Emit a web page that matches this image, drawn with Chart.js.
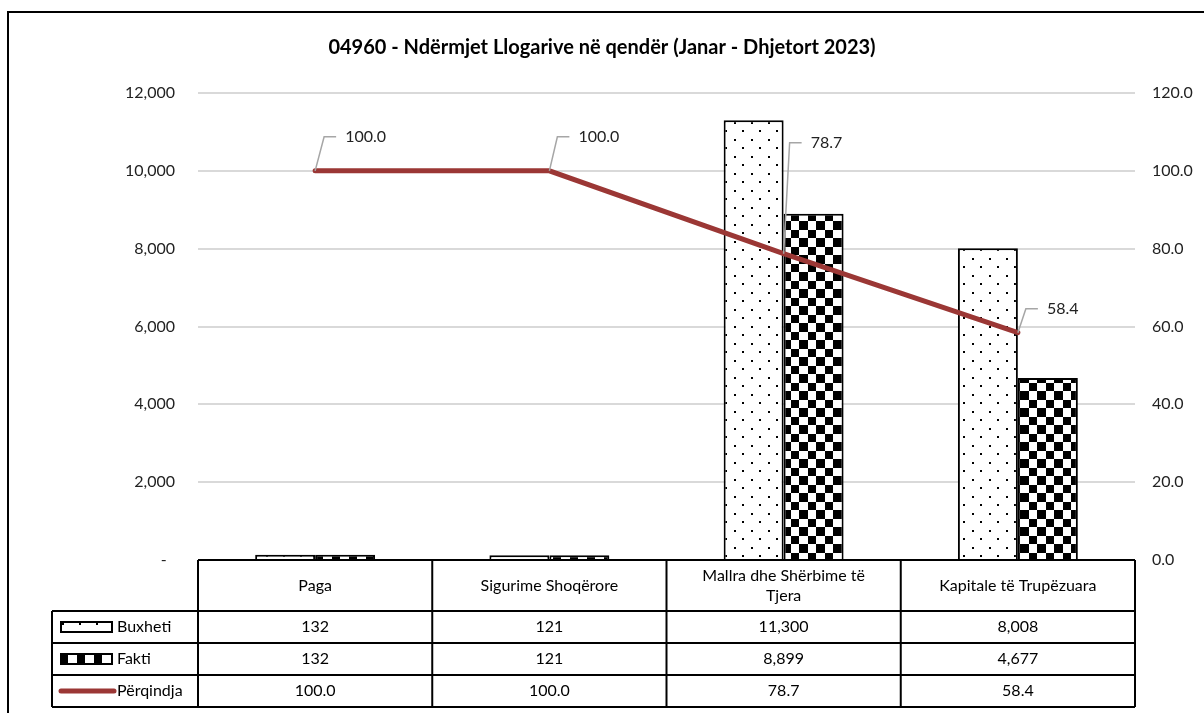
<!DOCTYPE html>
<html>
<head>
<meta charset="utf-8">
<script src="https://cdn.jsdelivr.net/npm/chart.js@4.4.1/dist/chart.umd.min.js"></script>
<style>
  html, body { margin: 0; padding: 0; background: #fff; }
  canvas { display: block; }
</style>
</head>
<body>
<canvas id="chart" width="1204" height="713"></canvas>
<script>
// te dhenat e grafikut
const categories = ["Paga", "Sigurime Shoqërore", ["Mallra dhe Shërbime të", "Tjera"], "Kapitale të Trupëzuara"];
const buxheti = [132, 121, 11300, 8008];
const fakti = [132, 121, 8899, 4677];
const perqindja = [100.0, 100.0, 78.7, 58.4];
const seriesNames = ["Buxheti", "Fakti", "Përqindja"];
const titleText = "04960 - Ndërmjet Llogarive në qendër (Janar - Dhjetort 2023)";

const lineColor = "#9b3735";
Chart.defaults.font.family = "Lato";

// mostrat e shtyllave
function makeDots() {
    const c = document.createElement("canvas");
    c.width = 17; c.height = 17;
    const g = c.getContext("2d");
    g.fillStyle = "#fff";
    g.fillRect(0, 0, 17, 17);
    g.fillStyle = "#000";
    g.fillRect(3, 3, 2, 2);
    g.fillRect(11, 11, 2, 2);
    return g.createPattern(c, "repeat");
}

function makeChecker() {
    const c = document.createElement("canvas");
    c.width = 17; c.height = 17;
    const g = c.getContext("2d");
    g.fillStyle = "#fff";
    g.fillRect(0, 0, 17, 17);
    g.fillStyle = "#000";
    g.fillRect(0, 0, 9, 9);
    g.fillRect(9, 9, 8, 8);
    return g.createPattern(c, "repeat");
}

const ctx = document.getElementById("chart").getContext("2d");
const dotPattern = makeDots();
const checkPattern = makeChecker();

function fmt(v) {
    return v.toLocaleString("en-US");
}

// sfondi dhe korniza
const frame = {
    id: "frame",
    beforeDraw(chart) {
        const c = chart.ctx;
        c.save();
        c.fillStyle = "#fff";
        c.fillRect(0, 0, chart.width, chart.height);
        c.strokeStyle = "#000";
        c.lineWidth = 2;
        c.strokeRect(8, 12, chart.width + 50, chart.height + 50);
        c.restore();
    }
};

// etiketat me vija udhezuese
const labelOffsets = [[30, -34], [29, -34], [27, -111], [29, -24]];
const lineLabels = {
    id: "lineLabels",
    afterDatasetsDraw(chart) {
        const meta = chart.getDatasetMeta(2);
        const c = chart.ctx;
        c.save();
        c.font = "16px Lato";
        c.textBaseline = "middle";
        c.textAlign = "left";
        meta.data.forEach((pt, i) => {
            const tx = pt.x + labelOffsets[i][0];
            const ty = pt.y + labelOffsets[i][1];
            c.strokeStyle = "#a6a6a6";
            c.lineWidth = 1.5;
            c.beginPath();
            c.moveTo(pt.x, pt.y);
            c.lineTo(tx - 21, ty);
            c.lineTo(tx - 9, ty);
            c.stroke();
            c.fillStyle = "#222";
            c.fillText(perqindja[i].toFixed(1), tx, ty);
        });
        c.restore();
    }
};

// tabela e te dhenave poshte grafikut
const dataTable = {
    id: "dataTable",
    afterDraw(chart) {
        const c = chart.ctx;
        const area = chart.chartArea;
        const xs = chart.scales.x;
        const half = (xs.getPixelForValue(1) - xs.getPixelForValue(0)) / 2;
        const top = area.bottom;
        const rowsTop = top + 51;
        const rowH = 32;
        const legendLeft = 52;
        const bottom = rowsTop + rowH * 3;

        c.save();
        c.strokeStyle = "#000";
        c.lineWidth = 2;
        c.beginPath();
        c.moveTo(area.left, top); c.lineTo(area.right, top);
        for (let r = 0; r <= 3; r++) {
            c.moveTo(legendLeft, rowsTop + r * rowH);
            c.lineTo(area.right, rowsTop + r * rowH);
        }
        c.moveTo(legendLeft, rowsTop); c.lineTo(legendLeft, bottom);
        c.moveTo(area.left, top); c.lineTo(area.left, bottom);
        for (let i = 0; i < categories.length; i++) {
            const xr = xs.getPixelForValue(i) + half;
            c.moveTo(xr, top); c.lineTo(xr, bottom);
        }
        c.stroke();

        c.fillStyle = "#000";
        c.font = "16px Lato";
        c.textAlign = "center";
        c.textBaseline = "middle";
        categories.forEach((cat, i) => {
            const cx = xs.getPixelForValue(i);
            const lines = Array.isArray(cat) ? cat : [cat];
            const cy = (top + rowsTop) / 2;
            lines.forEach((ln, k) => {
                c.fillText(ln, cx, cy + (k - (lines.length - 1) / 2) * 20);
            });
            const rows = [fmt(buxheti[i]), fmt(fakti[i]), perqindja[i].toFixed(1)];
            rows.forEach((txt, r) => {
                c.fillText(txt, cx, rowsTop + r * rowH + rowH / 2);
            });
        });

        // simbolet e legjendes
        const symX = 61, symW = 51;
        let cy = rowsTop + rowH / 2;
        c.fillStyle = dotPattern;
        c.fillRect(symX, cy - 5, symW, 10);
        c.strokeRect(symX, cy - 5, symW, 10);
        cy += rowH;
        c.fillStyle = checkPattern;
        c.fillRect(symX, cy - 5, symW, 10);
        c.strokeRect(symX, cy - 5, symW, 10);
        cy += rowH;
        c.strokeStyle = lineColor;
        c.lineWidth = 5;
        c.lineCap = "round";
        c.beginPath();
        c.moveTo(symX, cy); c.lineTo(symX + 53, cy);
        c.stroke();

        c.fillStyle = "#000";
        c.textAlign = "left";
        seriesNames.forEach((name, r) => {
            c.fillText(name, 117, rowsTop + r * rowH + rowH / 2);
        });
        c.restore();
    }
};

new Chart(ctx, {
    type: "bar",
    data: {
        labels: categories,
        datasets: [
            {
                label: seriesNames[0],
                data: buxheti,
                backgroundColor: dotPattern,
                borderColor: "#000",
                borderWidth: 2,
                categoryPercentage: 0.512,
                barPercentage: 1,
                yAxisID: "y",
                order: 1
            },
            {
                label: seriesNames[1],
                data: fakti,
                backgroundColor: checkPattern,
                borderColor: "#000",
                borderWidth: 2,
                categoryPercentage: 0.512,
                barPercentage: 1,
                yAxisID: "y",
                order: 1
            },
            {
                type: "line",
                label: seriesNames[2],
                data: perqindja,
                borderColor: lineColor,
                borderWidth: 5,
                borderCapStyle: "round",
                pointRadius: 0,
                tension: 0,
                fill: false,
                yAxisID: "y1",
                order: 0
            }
        ]
    },
    options: {
        responsive: false,
        animation: false,
        events: [],
        layout: { padding: { left: 0, right: 0, top: 0, bottom: 153 } },
        plugins: {
            legend: { display: false },
            tooltip: { enabled: false },
            title: {
                display: true,
                text: titleText,
                color: "#000",
                font: { family: "Lato", size: 20, weight: "bold" },
                padding: { top: 36, bottom: 33 }
            }
        },
        scales: {
            x: { display: false },
            y: {
                position: "left",
                min: 0,
                max: 12000,
                border: { display: false },
                grid: { color: "#d9d9d9", lineWidth: 2, drawTicks: false },
                ticks: {
                    stepSize: 2000,
                    padding: 23,
                    color: "#222",
                    font: { size: 16 },
                    callback: v => v === 0 ? "-  " : fmt(v)
                },
                afterFit: s => { s.width = 198; }
            },
            y1: {
                position: "right",
                min: 0,
                max: 120,
                border: { display: false },
                grid: { display: false, drawTicks: false },
                ticks: {
                    stepSize: 20,
                    padding: 17,
                    color: "#222",
                    font: { size: 16 },
                    callback: v => v.toFixed(1)
                },
                afterFit: s => { s.width = 69; }
            }
        }
    },
    plugins: [frame, lineLabels, dataTable]
});
</script>
</body>
</html>
